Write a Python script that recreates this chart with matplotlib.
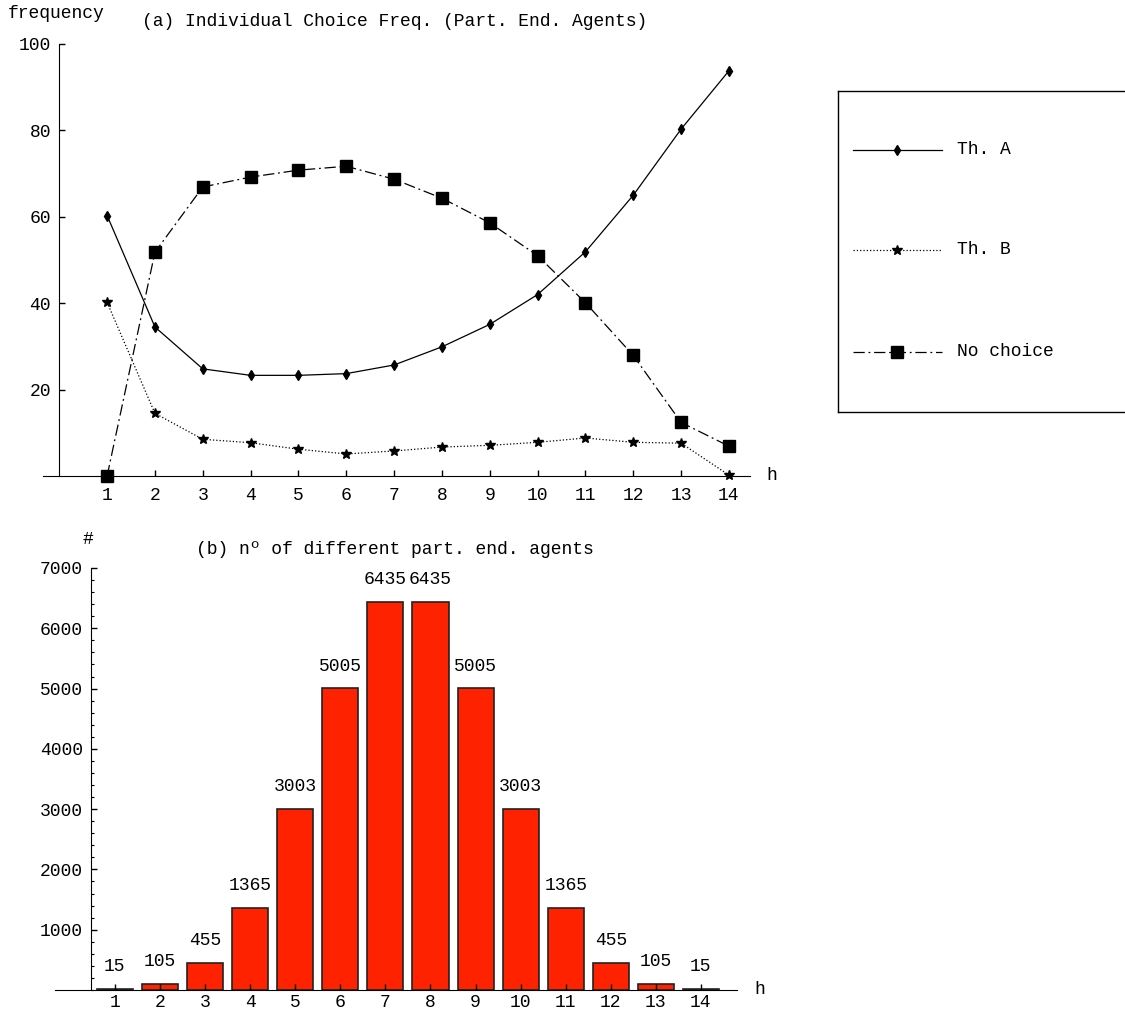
import matplotlib
matplotlib.use("Agg")
import matplotlib.pyplot as plt

plt.rcParams['font.family'] = ['Liberation Mono', 'DejaVu Sans Mono']
plt.rcParams['font.size'] = 13

# data
h = list(range(1, 15))
th_a = [60.3, 34.5, 24.8, 23.3, 23.3, 23.7, 25.7, 29.9, 35.1, 42.0, 51.9, 65.0, 80.3, 93.8]
th_b = [40.2, 14.5, 8.5, 7.7, 6.2, 5.1, 5.8, 6.7, 7.1, 7.8, 8.8, 7.8, 7.6, 0.2]
no_choice = [0.0, 51.8, 66.9, 69.2, 70.8, 71.7, 68.7, 64.3, 58.6, 51.0, 40.1, 27.9, 12.4, 6.9]
n_agents = [15, 105, 455, 1365, 3003, 5005, 6435, 6435, 5005, 3003, 1365, 455, 105, 15]
series_names = ["Th. A", "Th. B", "No choice"]

W, H = 1125, 1014
fig = plt.figure(figsize=(W / 100, H / 100), dpi=100)


def px_axes(x0, y0, x1, y1):
    # pixel box (top-left origin) -> figure axes
    return fig.add_axes([x0 / W, (H - y1) / H, (x1 - x0) / W, (y1 - y0) / H])


styles = [
    dict(linestyle='-', marker='d', markersize=5),
    dict(linestyle=':', marker='*', markersize=7),
    dict(linestyle=(0, (9, 3, 1.5, 3)), marker='s', markersize=8),
]

# ---- (a) line chart
ax = px_axes(43, 44, 750, 476)
for ys, st in zip([th_a, th_b, no_choice], styles):
    ax.plot(h, ys, color='black', linewidth=0.9, clip_on=False, **st)
ax.set_xlim(-0.34, 14.44)
ax.set_ylim(0, 100)
ax.spines['top'].set_visible(False)
ax.spines['right'].set_visible(False)
ax.spines['left'].set_position(('data', 0))
ax.spines['left'].set_bounds(0, 100)
ax.set_xticks(h)
ax.set_yticks([20, 40, 60, 80, 100])
ax.tick_params(direction='in', length=4, width=1, labelsize=13)
ax.tick_params(axis='x', pad=8)
ax.tick_params(axis='y', pad=6)
ax.patch.set_alpha(0)
fig.text(8 / W, 1 - 14 / H, "frequency", ha='left', va='center', fontsize=13)
fig.text(395 / W, 1 - 22 / H, "(a) Individual Choice Freq. (Part. End. Agents)",
         ha='center', va='center', fontsize=13)
fig.text(772 / W, 1 - 476 / H, "h", ha='center', va='center', fontsize=13)

# legend box
lax = px_axes(838, 91, 1140, 412)
lax.set_xlim(838, 1140)
lax.set_ylim(412, 91)
lax.set_xticks([])
lax.set_yticks([])
for sp in lax.spines.values():
    sp.set_linewidth(1)
for name, st, yy in zip(series_names, styles, [150, 250, 352]):
    lax.plot([853, 942], [yy, yy], color='black', linewidth=0.9,
             linestyle=st['linestyle'])
    lax.plot([897], [yy], color='black', marker=st['marker'],
             markersize=st['markersize'], linestyle='none')
    lax.text(957, yy, name, ha='left', va='center', fontsize=13)

# ---- (b) bar chart
bx = px_axes(55, 568, 737, 990)
bars = bx.bar(h, n_agents, width=0.8, color='#ff2200', edgecolor='#222222', linewidth=1.2)
for x, v in zip(h, n_agents):
    bx.annotate(str(v), (x, v), xytext=(0, 16), textcoords='offset points',
                ha='center', va='center', fontsize=13)
bx.set_xlim(-0.33, 14.8)
bx.set_ylim(0, 7000)
bx.spines['top'].set_visible(False)
bx.spines['right'].set_visible(False)
bx.spines['left'].set_position(('data', 0.47))
bx.spines['left'].set_bounds(0, 7000)
bx.set_xticks(h)
bx.set_yticks(range(1000, 7001, 1000))
bx.set_yticks(range(0, 7001, 200), minor=True)
bx.tick_params(direction='in', length=4, width=1, labelsize=13)
bx.tick_params(axis='y', which='minor', direction='in', length=2.5, width=0.8)
bx.tick_params(axis='x', pad=3)
bx.tick_params(axis='y', pad=6)
bx.patch.set_alpha(0)
fig.text(88 / W, 1 - 540 / H, "#", ha='center', va='center', fontsize=13)
fig.text(395 / W, 1 - 550 / H, "(b) nº of different part. end. agents",
         ha='center', va='center', fontsize=13)
fig.text(760 / W, 1 - 990 / H, "h", ha='center', va='center', fontsize=13)

fig.savefig("out.png", dpi=100)
